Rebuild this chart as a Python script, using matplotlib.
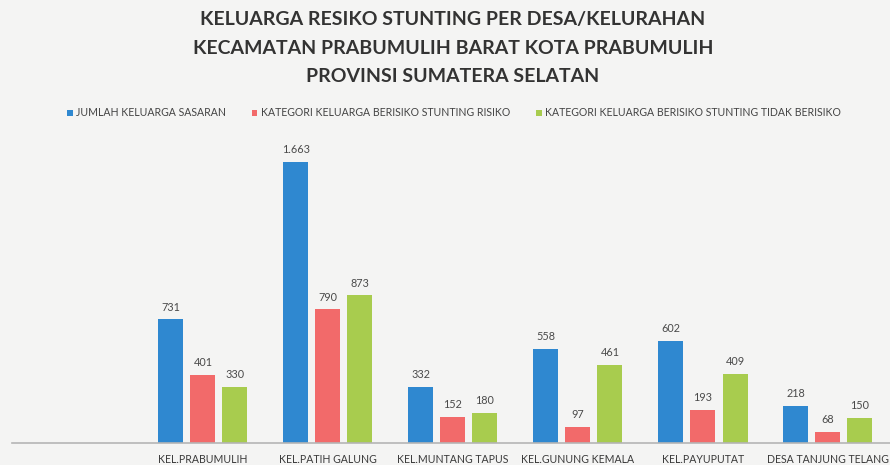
import matplotlib
matplotlib.use("Agg")
import matplotlib.pyplot as plt
import numpy as np

categories = ["KEL.PRABUMULIH", "KEL.PATIH GALUNG", "KEL.MUNTANG TAPUS",
              "KEL.GUNUNG KEMALA", "KEL.PAYUPUTAT", "DESA TANJUNG TELANG"]
series_names = ["JUMLAH KELUARGA SASARAN",
                "KATEGORI KELUARGA BERISIKO STUNTING RISIKO",
                "KATEGORI KELUARGA BERISIKO STUNTING TIDAK BERISIKO"]
sasaran = [731, 1663, 332, 558, 602, 218]
risiko = [401, 790, 152, 97, 193, 68]
tidak_risiko = [330, 873, 180, 461, 409, 150]
value_labels = [["731", "1.663", "332", "558", "602", "218"],
                ["401", "790", "152", "97", "193", "68"],
                ["330", "873", "180", "461", "409", "150"]]
colors = ["#2f88d0", "#f26a6a", "#a8cc4e"]

bg = "#f4f4f3"
plt.rcParams['font.family'] = ['Lato', 'DejaVu Sans']

fig = plt.figure(figsize=(8.9, 4.65), dpi=100, facecolor=bg)
W, H = 890, 465
ax_left, ax_right, ax_bottom, ax_top = 12, 890, 443, 140
ax = fig.add_axes([ax_left / W, (H - ax_bottom) / H,
                   (ax_right - ax_left) / W, (ax_bottom - ax_top) / H])
ax.set_facecolor(bg)

x = np.arange(len(categories))
width = 0.2
offset = 0.256
all_series = [sasaran, risiko, tidak_risiko]
handles = []
for i, (vals, col) in enumerate(zip(all_series, colors)):
    bars = ax.bar(x + (i - 1) * offset, vals, width, color=col, label=series_names[i], zorder=2)
    handles.append(bars)
    for b, lab in zip(bars, value_labels[i]):
        ax.annotate(lab, (b.get_x() + b.get_width() / 2, b.get_height()),
                    xytext=(0, 5), textcoords="offset points", ha="center", va="bottom",
                    fontsize=7.8, color="#4a4a4a")

ax.set_xlim(-1.528, 5.496)
ax.set_ylim(0, 1793)
ax.set_xticks(x)
ax.set_xticklabels(categories, fontsize=7.6, color="#3a3a3a")
ax.tick_params(axis='x', length=0, pad=8)
ax.set_yticks([])
for s in ["top", "right", "left"]:
    ax.spines[s].set_visible(False)
ax.spines["bottom"].set_color("#b5b5b5")
ax.spines["bottom"].set_linewidth(1.2)

title_lines = ["KELUARGA RESIKO STUNTING PER DESA/KELURAHAN",
               "KECAMATAN PRABUMULIH BARAT KOTA PRABUMULIH",
               "PROVINSI SUMATERA SELATAN"]
for k, line in enumerate(title_lines):
    fig.text(453 / W, 1 - (20 + 28 * k) / H, line, ha="center", va="center",
             fontsize=14, fontweight="bold", color="#333333")

leg = fig.legend(handles=handles, labels=series_names, loc="center",
                 bbox_to_anchor=(454 / W, 1 - 113 / H), ncol=3, frameon=False,
                 fontsize=7.6, handlelength=0.55, handleheight=0.55, handletextpad=0.35,
                 columnspacing=2.4)
for t in leg.get_texts():
    t.set_color("#444444")

fig.savefig("out.png", dpi=100, facecolor=bg)
